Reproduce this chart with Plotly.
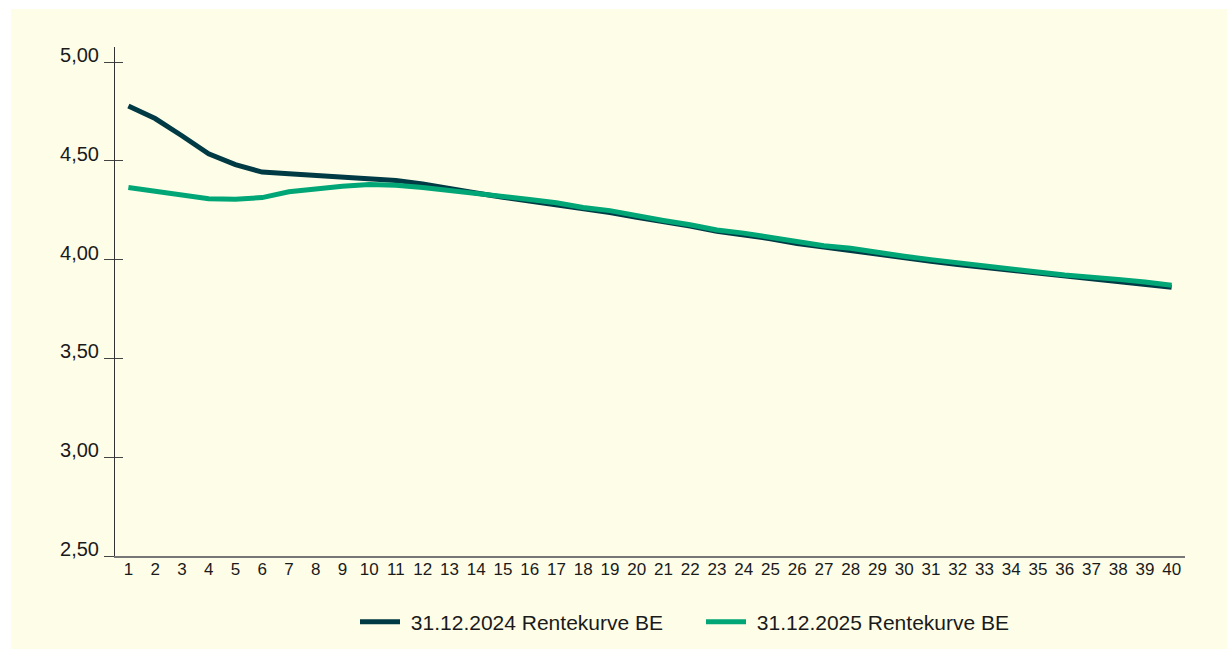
import plotly.graph_objects as go

maturity = list(range(1, 41))
curve_2024 = [4.777, 4.714, 4.627, 4.535, 4.481, 4.443, 4.435, 4.426, 4.418, 4.410,
              4.401, 4.383, 4.357, 4.337, 4.316, 4.297, 4.278, 4.256, 4.238, 4.214,
              4.194, 4.170, 4.143, 4.127, 4.106, 4.082, 4.063, 4.046, 4.027, 4.010,
              3.992, 3.975, 3.961, 3.946, 3.928, 3.914, 3.902, 3.891, 3.877, 3.860]
curve_2025 = [4.365, 4.348, 4.326, 4.308, 4.306, 4.314, 4.343, 4.360, 4.371, 4.380,
              4.376, 4.365, 4.351, 4.338, 4.323, 4.304, 4.288, 4.264, 4.248, 4.221,
              4.198, 4.176, 4.150, 4.134, 4.112, 4.089, 4.070, 4.057, 4.034, 4.017,
              4.000, 3.983, 3.972, 3.955, 3.937, 3.922, 3.913, 3.900, 3.887, 3.870]
series_names = ["31.12.2024 Rentekurve BE", "31.12.2025 Rentekurve BE"]
y_ticks = [2.5, 3.0, 3.5, 4.0, 4.5, 5.0]
y_ticktext = ["2,50", "3,00", "3,50", "4,00", "4,50", "5,00"]

DARK = "#003a45"
GREEN = "#00a676"
CREAM = "#fefee8"
FONT = "Liberation Sans, Arial, sans-serif"

W, H = 1227, 649
ML, MR, MT, MB = 115, 42, 47, 93
PW, PH = W - ML - MR, H - MT - MB

fig = go.Figure()
fig.add_trace(go.Scatter(x=maturity, y=curve_2024, mode="lines", name="\u00a0" + series_names[0],
                         line=dict(color=DARK, width=5)))
fig.add_trace(go.Scatter(x=maturity, y=curve_2025, mode="lines", name="\u00a0" + series_names[1],
                         line=dict(color=GREEN, width=5)))
# empty helper trace so the overlaying axis (inner half of the crossing ticks) is drawn
fig.add_trace(go.Scatter(x=[], y=[], yaxis="y2", showlegend=False, hoverinfo="skip"))

def px_x(p):
    return (p - ML) / PW

def px_y(p):
    return (MT + PH - p) / PH

fig.add_shape(type="rect", xref="paper", yref="paper",
              x0=px_x(11), x1=px_x(1260), y0=px_y(690), y1=px_y(9),
              fillcolor=CREAM, line=dict(width=0), layer="below")

yr = [2.5, 5.076]
fig.update_layout(
    width=W, height=H,
    margin=dict(l=ML, r=MR, t=MT, b=MB, autoexpand=False),
    paper_bgcolor="white",
    plot_bgcolor=CREAM,
    font=dict(family=FONT, color="#1a1a1a"),
    showlegend=True,
    legend=dict(orientation="h", x=px_x(355), xanchor="left", y=px_y(622), yanchor="middle",
                font=dict(size=21, family=FONT, color="#1a1a1a"),
                bgcolor="rgba(0,0,0,0)", itemwidth=40, traceorder="normal",
                entrywidth=291, entrywidthmode="pixels"),
    xaxis=dict(range=[0.5, 40.5], tickvals=maturity, ticktext=[str(m) for m in maturity],
               showgrid=False, zeroline=False, showline=True, linecolor="#777777", linewidth=2,
               ticks="", ticklabelstandoff=-3, automargin=False,
               tickfont=dict(size=17, family=FONT, color="#1a1a1a")),
    yaxis=dict(range=yr, tickvals=y_ticks, ticktext=y_ticktext,
               showgrid=False, zeroline=False, showline=True, linecolor="#333333", linewidth=1,
               ticks="outside", ticklen=10, tickcolor="#444444", tickwidth=1,
               ticklabelposition="outside", ticklabelshift=-7, ticklabelstandoff=1,
               automargin=False,
               tickfont=dict(size=20, family=FONT, color="#1a1a1a")),
    yaxis2=dict(range=yr, overlaying="y", side="left", tickvals=y_ticks[1:],
                showgrid=False, zeroline=False, showline=False, showticklabels=False,
                ticks="inside", ticklen=8, tickcolor="#444444", tickwidth=1, automargin=False),
)
fig.write_html("out.html", config={"displayModeBar": False},
               post_script="document.body.style.margin='0';")
